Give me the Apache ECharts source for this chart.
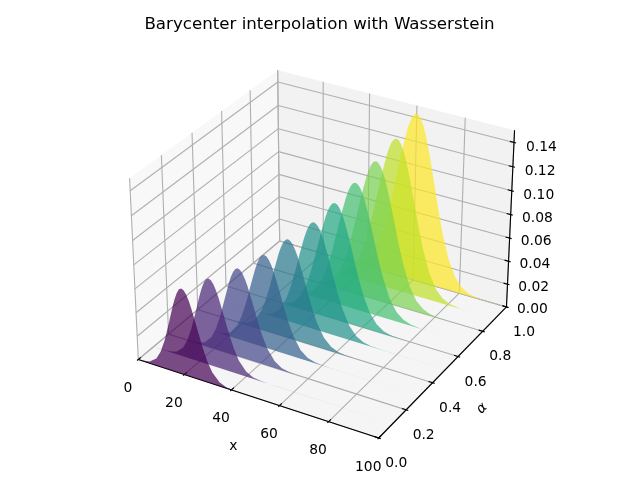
<!DOCTYPE html>
<html><head><meta charset="utf-8"><style>html,body{margin:0;padding:0;background:#fff}#c{width:640px;height:480px}</style>
<script src="https://cdn.jsdelivr.net/npm/echarts@6/dist/echarts.min.js"></script></head><body><div id="c"></div>
<script>
const titleText='Barycenter interpolation with Wasserstein';
const xTicks=[0,20,40,60,80,100];
const alphaTicks=[0,0.2,0.4,0.6,0.8,1];
const zTicks=[0,0.02,0.04,0.06,0.08,0.10,0.12,0.14];
const alphas=[0,0.1,0.2,0.3,0.4,0.5,0.6,0.7,0.8,0.9,1];
const colors=['#440154','#482475','#414487','#355f8d','#2a788e','#21918c','#22a884','#44bf70','#7ad151','#bddf26','#fde725'];
const curve0=[[0,0.0001],[2,0.0003],[5,0.0015],[8,0.0061],[10,0.013],[12,0.0242],[14,0.0391],[16,0.055],[17,0.062],[18,0.0676],[19,0.0712],[20,0.0724],[21,0.0714],[22,0.0685],[23,0.0639],[24,0.058],[26,0.0439],[28,0.0298],[30,0.0181],[32,0.0098],[35,0.0032],[38,0.0008],[41,0.0002],[44,0],[99,0]];
const curve1=[[0,0],[4,0.00006],[7,0.0004],[10,0.002],[13,0.0074],[15,0.0149],[17,0.0264],[19,0.0413],[21,0.0568],[22,0.0635],[23,0.0688],[24,0.0721],[25,0.0733],[26,0.0724],[27,0.0697],[28,0.0654],[29,0.0599],[31,0.0466],[33,0.0327],[35,0.0208],[37,0.0119],[40,0.0043],[43,0.0012],[46,0.0003],[49,0.00005],[53,0],[99,0]];
const curve2=[[0,0],[7,0.00002],[10,0.00013],[13,0.0007],[16,0.003],[19,0.0095],[21,0.0178],[23,0.0299],[25,0.0447],[27,0.0596],[28,0.0659],[29,0.0708],[30,0.0739],[31,0.075],[32,0.0741],[33,0.0716],[34,0.0676],[35,0.0624],[37,0.0496],[39,0.036],[41,0.0238],[43,0.0144],[46,0.0057],[49,0.0018],[52,0.0005],[55,0.0001],[59,0.00001],[99,0]];
const curve3=[[0,0],[8,0],[12,0.00004],[15,0.00025],[18,0.0012],[21,0.0042],[24,0.0121],[26,0.0215],[28,0.0343],[30,0.0494],[32,0.0641],[33,0.0702],[34,0.0749],[35,0.0779],[36,0.0789],[37,0.0781],[38,0.0757],[39,0.0718],[40,0.0667],[42,0.0541],[44,0.0403],[46,0.0276],[48,0.0174],[51,0.0074],[54,0.0026],[57,0.0008],[60,0.00019],[64,0.00002],[99,0]];
const curve4=[[0,0],[12,0.00001],[16,0.00009],[19,0.0005],[22,0.0018],[25,0.0059],[28,0.0153],[30,0.0258],[32,0.0395],[34,0.055],[36,0.0697],[37,0.0757],[38,0.0803],[39,0.0832],[40,0.0842],[41,0.0834],[42,0.081],[43,0.0772],[44,0.0722],[46,0.0595],[48,0.0455],[50,0.0321],[52,0.021],[55,0.0096],[58,0.0037],[61,0.0012],[64,0.0003],[68,0.00004],[99,0]];
const curve5=[[0,0],[17,0.00002],[21,0.00018],[24,0.0008],[27,0.0028],[30,0.008],[33,0.0193],[35,0.031],[37,0.0457],[39,0.0619],[41,0.0768],[42,0.0828],[43,0.0874],[44,0.0903],[45,0.0913],[46,0.0905],[47,0.0881],[48,0.0843],[49,0.0792],[51,0.0663],[53,0.0517],[55,0.0375],[57,0.0254],[60,0.0123],[63,0.0051],[66,0.0018],[69,0.0005],[73,0.00009],[77,0.00001],[99,0]];
const curve6=[[0,0],[20,0.00004],[24,0.0003],[27,0.0013],[30,0.004],[33,0.0106],[36,0.0238],[38,0.0369],[40,0.0527],[42,0.0696],[44,0.0848],[45,0.0909],[46,0.0955],[47,0.0984],[48,0.0994],[49,0.0986],[50,0.0961],[51,0.0921],[52,0.0869],[54,0.0734],[56,0.058],[58,0.0428],[60,0.0295],[63,0.0149],[66,0.0065],[69,0.0024],[72,0.0008],[76,0.00013],[80,0.00002],[99,0]];
const curve7=[[0,0],[19,0.00001],[23,0.00008],[27,0.0006],[30,0.0019],[33,0.0056],[36,0.0139],[39,0.0291],[41,0.0435],[43,0.0605],[45,0.078],[47,0.0937],[48,0.0998],[49,0.1045],[50,0.1074],[51,0.1084],[52,0.1075],[53,0.105],[54,0.1008],[55,0.0954],[57,0.0813],[59,0.0649],[61,0.0487],[63,0.0343],[66,0.0179],[69,0.0081],[72,0.0032],[75,0.0011],[79,0.0002],[83,0.00003],[99,0]];
const curve8=[[0,0],[22,0.00002],[26,0.00013],[30,0.0008],[33,0.0026],[36,0.0072],[39,0.017],[42,0.034],[44,0.0499],[46,0.0682],[48,0.0868],[50,0.1033],[51,0.1097],[52,0.1146],[53,0.1176],[54,0.1186],[55,0.1177],[56,0.1149],[57,0.1105],[58,0.1047],[60,0.0895],[62,0.072],[64,0.0543],[66,0.0385],[69,0.0204],[72,0.0094],[75,0.0038],[78,0.0013],[82,0.00026],[86,0.00004],[99,0]];
const curve9=[[0,0],[25,0.00003],[29,0.0002],[33,0.0011],[36,0.0035],[39,0.0091],[42,0.0204],[45,0.0398],[47,0.0572],[49,0.0768],[51,0.0966],[53,0.1139],[54,0.1207],[55,0.1257],[56,0.1288],[57,0.1299],[58,0.1289],[59,0.126],[60,0.1213],[61,0.115],[63,0.0987],[65,0.0798],[67,0.0607],[69,0.0434],[72,0.0234],[75,0.011],[78,0.0045],[81,0.0016],[85,0.00033],[89,0.00005],[99,0]];
const curve10=[[0,0],[28,0.00005],[32,0.0003],[36,0.0016],[39,0.0046],[42,0.0114],[45,0.0246],[48,0.0466],[50,0.0656],[52,0.087],[54,0.1082],[56,0.1265],[57,0.1336],[58,0.1389],[59,0.1422],[60,0.1433],[61,0.1422],[62,0.1391],[63,0.134],[64,0.1272],[66,0.1096],[68,0.089],[70,0.0681],[72,0.0491],[75,0.0268],[78,0.0129],[81,0.0054],[84,0.002],[88,0.0004],[92,0.00007],[99,0]];
const curves=[curve0,curve1,curve2,curve3,curve4,curve5,curve6,curve7,curve8,curve9,curve10];
const A=1.1905,C=0.8929,XMAX=100,ZMAX=0.15;
const R=[A/2,A/2,C/2],U=[0.8660254,0.5,0],V=[-0.25,0.4330127,0.8660254],W=[0.4330127,-0.75,0.5];
function proj(x,al,z){const d=[x/XMAX*A-R[0],al*A-R[1],z/ZMAX*C-R[2]];
 const dot=(a)=>a[0]*d[0]+a[1]*d[1]+a[2]*d[2];const D=10-dot(W);return [dot(U)/D,dot(V)/D];}
const GRID='#b0b0b0';
function line(api,a,b,color){const p=api.coord(proj(...a)),q=api.coord(proj(...b));
 return {type:'line',silent:true,shape:{x1:p[0],y1:p[1],x2:q[0],y2:q[1]},style:{stroke:color,lineWidth:1.11,fill:null}};}
function pane(api,pts,fill){return {type:'polygon',silent:true,shape:{points:pts.map(p=>api.coord(proj(...p)))},style:{fill:fill,stroke:null}};}
function label(api,p,dx,dy,t,rot){const c=api.coord(proj(...p));
 return {type:'text',silent:true,x:c[0]+dx,y:c[1]+dy,rotation:rot||0,style:{text:t,x:0,y:0,fill:'#000',font:(rot?'italic ':'')+'13.89px "DejaVu Sans"',align:'center',verticalAlign:'middle'}};}
function frame(params,api){
 const ch=[];
 ch.push(pane(api,[[0,0,0],[0,1,0],[0,1,ZMAX],[0,0,ZMAX]],'rgba(242,242,242,0.5)'));
 ch.push(pane(api,[[0,1,0],[XMAX,1,0],[XMAX,1,ZMAX],[0,1,ZMAX]],'rgba(230,230,230,0.5)'));
 ch.push(pane(api,[[0,0,0],[XMAX,0,0],[XMAX,1,0],[0,1,0]],'rgba(236,236,236,0.5)'));
 xTicks.forEach(t=>{ch.push(line(api,[t,0,0],[t,1,0],GRID));ch.push(line(api,[t,1,0],[t,1,ZMAX],GRID));});
 alphaTicks.forEach(t=>{ch.push(line(api,[XMAX,t,0],[0,t,0],GRID));ch.push(line(api,[0,t,0],[0,t,ZMAX],GRID));});
 zTicks.forEach(t=>{ch.push(line(api,[XMAX,1,t],[0,1,t],GRID));ch.push(line(api,[0,1,t],[0,0,t],GRID));});
 ch.push(line(api,[0,0,0],[XMAX,0,0],'#000'));
 ch.push(line(api,[XMAX,0,0],[XMAX,1,0],'#000'));
 ch.push(line(api,[XMAX,1,0],[XMAX,1,ZMAX],'#000'));
 const dx=XMAX/12,da=1/12;
 xTicks.forEach(t=>{ch.push(line(api,[t,-0.1*da,0],[t,0.2*da,0],'#000'));ch.push(label(api,[t,0,0],-10.5,29,String(t)));});
 alphaTicks.forEach(t=>{ch.push(line(api,[XMAX+0.1*dx,t,0],[XMAX-0.2*dx,t,0],'#000'));ch.push(label(api,[XMAX,t,0],17.5,25.5,t.toFixed(1)));});
 zTicks.forEach(t=>{ch.push(line(api,[XMAX+0.1*dx,1,t],[XMAX-0.2*dx,1,t],'#000'));ch.push(label(api,[XMAX,1,t],26+t*10,2.5+t*20,t.toFixed(2)));});
 ch.push(label(api,[50,0,0],-22,49,'x'));
 ch.push(label(api,[XMAX,0.5,0],36.6,39,'α',Math.PI/4));
 return {type:'group',children:ch};
}
function curveItem(i){return function(params,api){
 if(params.dataIndex!==0)return null;
 const pts=curves[i].map(p=>[p[0],alphas[i],p[1]]);
 return {type:'polygon',silent:true,shape:{points:pts.map(p=>api.coord(proj(...p)))},style:{fill:colors[i],opacity:0.7,stroke:null}};
};}
const series=[{type:'custom',silent:true,animation:false,clip:false,renderItem:frame,data:[[0,0]],z:1}];
for(let i=alphas.length-1;i>=0;i--)series.push({type:'custom',name:'alpha '+alphas[i],silent:true,animation:false,clip:false,renderItem:curveItem(i),data:curves[i],z:2+(10-i)});
echarts.init(document.getElementById('c'),null,{renderer:'canvas'}).setOption({animation:false,backgroundColor:'#fff',
 title:{text:titleText,left:314.5,top:11,textAlign:'center',textStyle:{fontFamily:'DejaVu Sans',fontSize:16.67,fontWeight:'normal',color:'#000'}},
 grid:{left:106,top:37,width:428,height:428,containLabel:false},
 xAxis:{type:'value',min:-0.095,max:0.09,show:false},yAxis:{type:'value',min:-0.095,max:0.09,show:false},
 series:series});
</script></body></html>
